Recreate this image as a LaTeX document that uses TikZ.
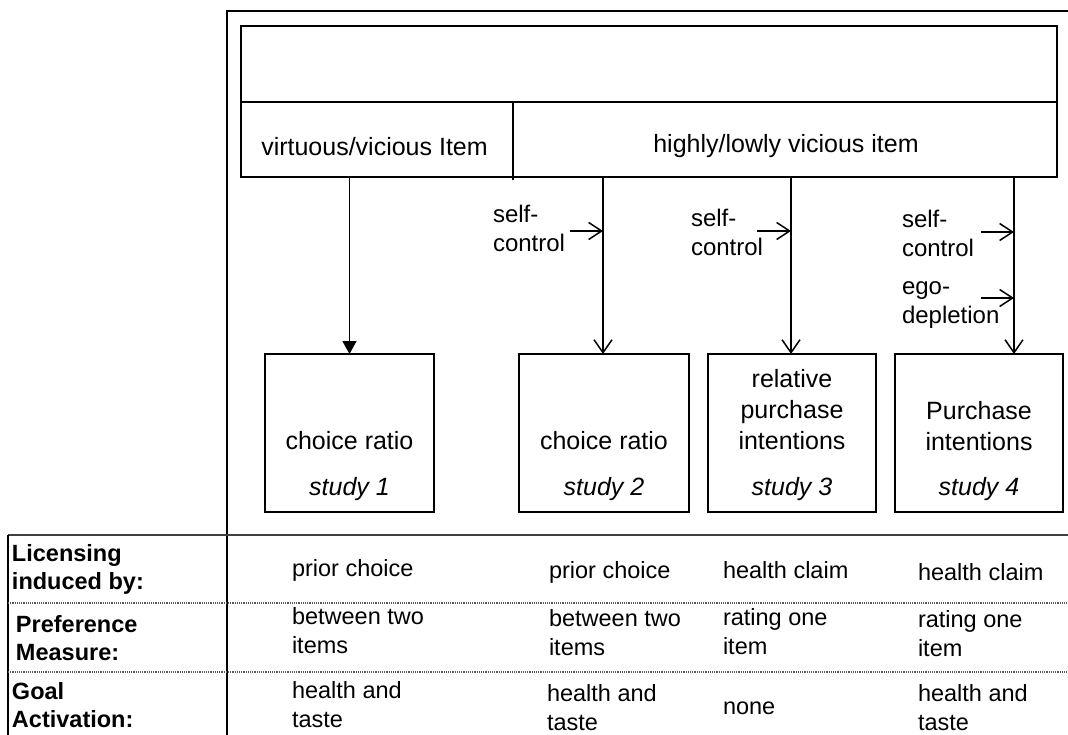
\documentclass[tikz,border=0pt]{standalone}
\usepackage{fontspec}
\setmainfont{Liberation Sans}
\usetikzlibrary{arrows.meta}
\begin{document}
\begin{tikzpicture}[x=1pt,y=-1pt,
  every node/.style={inner sep=0pt, outer sep=0pt},
  frame/.style={draw=black, line width=1.5pt},
  boxtxt/.style={font=\fontsize{25}{31}\selectfont, align=center},
  studytxt/.style={font=\fontsize{25}{31}\selectfont\itshape},
  sidetxt/.style={font=\fontsize{24}{29}\selectfont, align=left, anchor=west},
  tabtxt/.style={font=\fontsize{23.5}{29}\selectfont, align=left, anchor=west},
  rowhead/.style={font=\fontsize{23.5}{28}\selectfont\bfseries, align=left, anchor=west},
  filledarrow/.style={line width=1.5pt, -{Triangle[length=13pt,width=14pt]}},
  openarrow/.style={line width=1.5pt, -{Straight Barb[length=13pt,width=18pt,line width=1.5pt]}},
  sidearrow/.style={line width=1.5pt, -{Straight Barb[length=13pt,width=17pt,line width=1.5pt]}},
  dotline/.style={draw=black!65, line width=1.2pt, dash pattern=on 1.2pt off 1pt},
]
\useasboundingbox (0,0) rectangle (1068,735);

% outer frame
\draw[frame] (227,735) -- (227,11) -- (1068,11);

% top box
\node[frame, minimum width=816pt, minimum height=151pt] (top) at (649,101.5) {};
\draw[frame] (241,102) -- (1057,102);
\draw[frame] (513,102) -- (513,180);
\node[boxtxt] (vv) at (374.5,147) {virtuous/vicious Item};
\node[boxtxt] (hl) at (786,146) {highly/lowly vicious item};

% study boxes
\node[frame, minimum width=169pt, minimum height=158pt] (b1) at (349.5,433) {};
\node[frame, minimum width=170pt, minimum height=158pt] (b2) at (604,433) {};
\node[frame, minimum width=168pt, minimum height=158pt] (b3) at (792,433) {};
\node[frame, minimum width=168pt, minimum height=158pt] (b4) at (979,433) {};

\node[boxtxt] (t1) at (349.5,441) {choice ratio};
\node[studytxt] (s1) at (349.5,489) {study 1};
\node[boxtxt] (t2) at (604,441) {choice ratio};
\node[studytxt] (s2) at (604,489) {study 2};
\node[boxtxt] (t3) at (792,410) {relative\\purchase\\intentions};
\node[studytxt] (s3) at (792,489) {study 3};
\node[boxtxt] (t4) at (979,426) {Purchase\\intentions};
\node[studytxt] (s4) at (979,489) {study 4};

% main arrows
\draw[filledarrow] (top.south -| b1.north) -- (b1.north);
\coordinate (a2t) at (603,177);
\coordinate (a2b) at (603,354);
\draw[openarrow] (a2t) -- (a2b);
\coordinate (a3t) at (791,177);
\coordinate (a3b) at (791,354);
\draw[openarrow] (a3t) -- (a3b);
\coordinate (a4t) at (1014,177);
\coordinate (a4b) at (1014,354);
\draw[openarrow] (a4t) -- (a4b);

% side labels
\node[sidetxt] (sc2) at (493,228) {self-\\control};
\node[sidetxt] (sc3) at (691,232) {self-\\control};
\node[sidetxt] (sc4) at (902,233) {self-\\control};
\node[sidetxt] (ed4) at (902,305) {ego-\\depletion};

\coordinate (sc2s) at (570,231);
\coordinate (sc2e) at (603,231);
\draw[sidearrow] (sc2s) -- (sc2e);
\coordinate (sc3s) at (757,231);
\coordinate (sc3e) at (791,231);
\draw[sidearrow] (sc3s) -- (sc3e);
\coordinate (sc4s) at (981,232);
\coordinate (sc4e) at (1014,232);
\draw[sidearrow] (sc4s) -- (sc4e);
\coordinate (ed4s) at (981,298);
\coordinate (ed4e) at (1014,298);
\draw[sidearrow] (ed4s) -- (ed4e);

% table
\draw[draw=black!75, line width=2.6pt] (8,535) -- (1068,535);
\draw[frame] (8,535) -- (8,735);
\draw[dotline] (8,603) -- (1068,603);
\draw[dotline] (8,672) -- (1068,672);

\node[rowhead] (r1) at (12,569) {Licensing\\induced by:};
\node[rowhead] (r2) at (16,638) {Preference\\Measure:};
\node[rowhead] (r3) at (12,705) {Goal\\Activation:};

\node[tabtxt] (c11) at (292,570) {prior choice};
\node[tabtxt] (c12) at (292,631) {between two\\items};
\node[tabtxt] (c13) at (292,705) {health and\\taste};

\node[tabtxt] (c21) at (549,572) {prior choice};
\node[tabtxt] (c22) at (549,633) {between two\\items};
\node[tabtxt] (c23) at (547,708) {health and\\taste};

\node[tabtxt] (c31) at (723,570) {health claim};
\node[tabtxt] (c32) at (723,632) {rating one\\item};
\node[tabtxt] (c33) at (723,708) {none};

\node[tabtxt] (c41) at (918,572) {health claim};
\node[tabtxt] (c42) at (918,634) {rating one\\item};
\node[tabtxt] (c43) at (918,708) {health and\\taste};
\end{tikzpicture}
\end{document}
